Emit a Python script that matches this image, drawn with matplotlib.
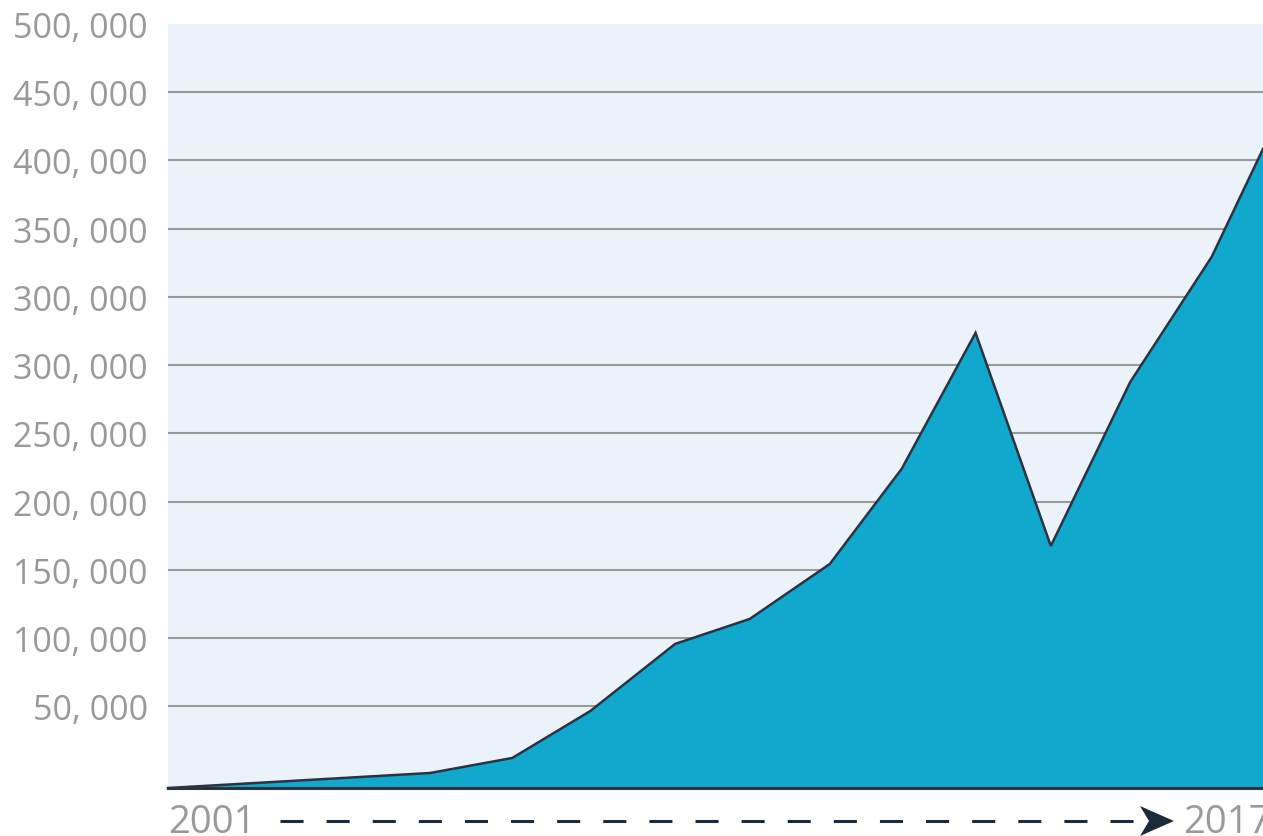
import matplotlib
matplotlib.use("Agg")
import matplotlib.pyplot as plt
from matplotlib.patches import Polygon

# ---- data ----
x_years = [2001.0, 2004.83, 2006.03, 2007.17, 2008.41, 2009.5, 2010.67,
           2011.72, 2012.8, 2013.9, 2015.06, 2016.25, 2017.0]
values = [0, 11000, 22000, 56400, 105600, 123900, 164200,
          233900, 333600, 177400, 297600, 389300, 468400]
tick_values = [60000, 110000, 160000, 210000, 260000, 310000,
               360000, 410000, 460000, 510000, 560000]
tick_labels = ["50, 000", "100, 000", "150, 000", "200, 000", "250, 000",
               "300, 000", "300, 000", "350, 000", "400, 000", "450, 000",
               "500, 000"]
start_label = "2001"
end_label = "2017"

W, H = 1263, 837
fig = plt.figure(figsize=(W / 100, H / 100), dpi=100)
plt.rcParams['font.family'] = ['Open Sans', 'DejaVu Sans']

left, right, top, bottom = 168, 1263, 25, 789
ax = fig.add_axes([left / W, (H - bottom) / H, (right - left) / W, (bottom - top) / H])
ax.set_facecolor("#EBF2F9")
ax.set_xlim(2001, 2017)
ax.set_ylim(0, 560000)

# grid lines (all but the top one)
ax.hlines(tick_values[:-1], 2001, 2017, colors="#999999", linewidth=1.5, zorder=1)

fill_col = "#11A8CD"
line_col = "#2B3340"
ax.fill_between(x_years, values, 0, color=fill_col, linewidth=0, zorder=2)
ax.plot(x_years, values, color=line_col, linewidth=1.8, zorder=3,
        solid_joinstyle="miter", clip_on=False)
ax.axhline(0, color=line_col, linewidth=2.2, zorder=4, clip_on=False)

for s in ax.spines.values():
    s.set_visible(False)
ax.set_xticks([])
ax.set_yticks(tick_values)
ax.set_yticklabels(tick_labels)
ax.tick_params(axis="y", length=0, pad=14.5, labelsize=24.5, labelcolor="#999999")

# x end labels
def fx(px):
    return px / W

def fy(py):
    return (H - py) / H

fig.text(fx(168), fy(833), start_label, fontsize=27.5, color="#999999",
         ha="left", va="baseline")
fig.text(fx(1183), fy(833), end_label, fontsize=27.5, color="#999999",
         ha="left", va="baseline")

# dashed timeline arrow
plt.rcParams['lines.scale_dashes'] = False
fig.add_artist(plt.Line2D([fx(280), fx(1150)], [fy(822), fy(822)],
                          color="#1C2B3C", linewidth=2.2,
                          dashes=(16.6, 16.6), transform=fig.transFigure))
head = Polygon([[fx(1140), fy(807)], [fx(1174), fy(822)], [fx(1140), fy(837)],
                [fx(1149), fy(822)]], closed=True, facecolor="#1C2B3C",
               edgecolor="none", transform=fig.transFigure)
fig.add_artist(head)

fig.savefig("out.png", dpi=100)
